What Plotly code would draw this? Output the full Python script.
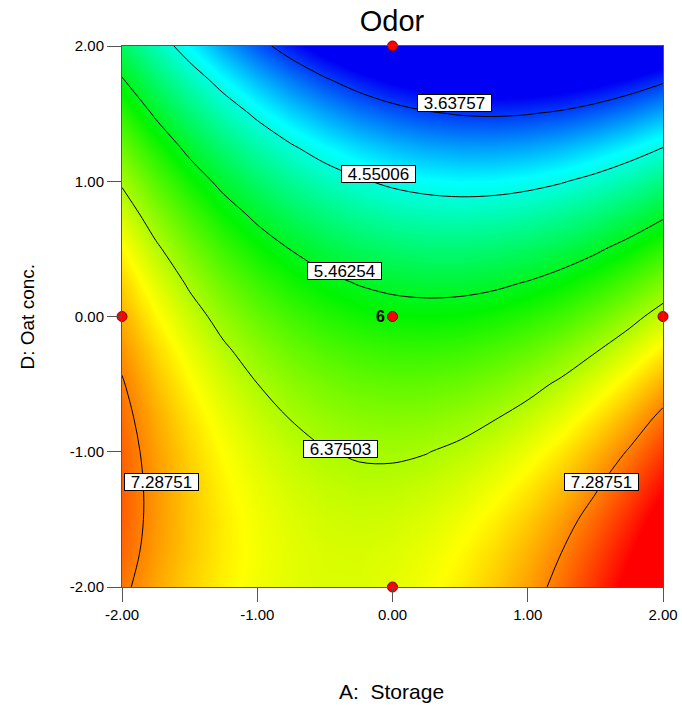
import plotly.graph_objects as go

# ---------------- data ----------------
storage_A = [-2.0, -1.75, -1.5, -1.25, -1.0, -0.75, -0.5, -0.25, 0.0,
             0.25, 0.5, 0.75, 1.0, 1.25, 1.5, 1.75, 2.0]          # A: Storage
oat_D = [-2.0, -1.75, -1.5, -1.25, -1.0, -0.75, -0.5, -0.25, 0.0,
         0.25, 0.5, 0.75, 1.0, 1.25, 1.5, 1.75, 2.0]              # D: Oat conc.

# Odor response, one row per oat_D value, one column per storage_A value
odor = [
    [7.347, 7.129, 6.948, 6.803, 6.696, 6.625, 6.591, 6.593, 6.633, 6.709, 6.823, 6.973, 7.160, 7.383, 7.644, 7.941, 8.275],
    [7.407, 7.177, 6.984, 6.828, 6.708, 6.626, 6.580, 6.571, 6.598, 6.663, 6.764, 6.903, 7.078, 7.290, 7.538, 7.824, 8.146],
    [7.441, 7.199, 6.994, 6.826, 6.695, 6.600, 6.542, 6.522, 6.538, 6.590, 6.680, 6.806, 6.970, 7.170, 7.406, 7.680, 7.991],
    [7.448, 7.194, 6.978, 6.798, 6.655, 6.548, 6.479, 6.446, 6.450, 6.491, 6.569, 6.684, 6.835, 7.023, 7.248, 7.510, 7.809],
    [7.429, 7.164, 6.935, 6.743, 6.589, 6.470, 6.389, 6.345, 6.337, 6.366, 6.432, 6.535, 6.675, 6.851, 7.064, 7.314, 7.601],
    [7.384, 7.107, 6.866, 6.663, 6.496, 6.366, 6.273, 6.217, 6.197, 6.215, 6.269, 6.360, 6.488, 6.652, 6.854, 7.092, 7.367],
    [7.313, 7.024, 6.771, 6.556, 6.378, 6.236, 6.131, 6.063, 6.032, 6.037, 6.079, 6.159, 6.275, 6.427, 6.617, 6.843, 7.107],
    [7.215, 6.914, 6.650, 6.423, 6.233, 6.079, 5.962, 5.883, 5.839, 5.833, 5.864, 5.931, 6.035, 6.176, 6.354, 6.569, 6.820],
    [7.091, 6.778, 6.503, 6.264, 6.062, 5.896, 5.768, 5.676, 5.621, 5.603, 5.622, 5.677, 5.770, 5.899, 6.065, 6.267, 6.507],
    [6.941, 6.617, 6.329, 6.078, 5.864, 5.687, 5.547, 5.443, 5.376, 5.347, 5.353, 5.397, 5.478, 5.595, 5.749, 5.940, 6.168],
    [6.765, 6.428, 6.129, 5.866, 5.641, 5.452, 5.299, 5.184, 5.106, 5.064, 5.059, 5.091, 5.160, 5.265, 5.407, 5.587, 5.803],
    [6.562, 6.214, 5.903, 5.628, 5.391, 5.190, 5.026, 4.899, 4.808, 4.755, 4.738, 4.758, 4.815, 4.909, 5.039, 5.207, 5.411],
    [6.333, 5.973, 5.650, 5.364, 5.115, 4.902, 4.726, 4.587, 4.485, 4.420, 4.391, 4.399, 4.445, 4.526, 4.645, 4.801, 4.993],
    [6.078, 5.706, 5.371, 5.073, 4.812, 4.588, 4.400, 4.249, 4.135, 4.058, 4.018, 4.014, 4.048, 4.118, 4.225, 4.368, 4.549],
    [5.797, 5.413, 5.066, 4.757, 4.484, 4.247, 4.048, 3.885, 3.760, 3.671, 3.618, 3.603, 3.625, 3.683, 3.778, 3.910, 4.079],
    [5.489, 5.094, 4.735, 4.414, 4.129, 3.881, 3.669, 3.495, 3.357, 3.257, 3.193, 3.166, 3.175, 3.222, 3.305, 3.425, 3.582],
    [5.155, 4.748, 4.378, 4.044, 3.748, 3.488, 3.265, 3.078, 2.929, 2.816, 2.741, 2.702, 2.700, 2.734, 2.806, 2.914, 3.059],
]

contour_levels = [3.63757, 4.55006, 5.46254, 6.37503, 7.28751]
contour_label_text = ["3.63757", "4.55006", "5.46254", "6.37503", "7.28751", "7.28751"]

design_A = [0.0, 0.0, -2.0, 2.0, 0.0]
design_D = [2.0, -2.0, 0.0, 0.0, 0.0]
center_runs = "6"

tick_vals = [-2, -1, 0, 1, 2]
tick_text = ["-2.00", "-1.00", "0.00", "1.00", "2.00"]

# ---------------- figure ----------------
FONT = "Liberation Sans, Arial, sans-serif"
FIG_W, FIG_H = 682, 709
PLOT_L, PLOT_T, PLOT_W, PLOT_H = 122, 46, 541, 541   # in page pixels

Z_MIN, Z_MAX = 3.40, 7.85
def stop(v):
    return (v - Z_MIN) / (Z_MAX - Z_MIN)

colorscale = [
    [0.0, "rgb(0,0,245)"],
    [stop(4.40), "rgb(0,255,255)"],
    [stop(5.60), "rgb(0,245,0)"],
    [stop(6.75), "rgb(255,255,0)"],
    [1.0, "rgb(255,0,0)"],
]

fig = go.Figure()

fig.add_trace(go.Heatmap(
    x=storage_A, y=oat_D, z=odor,
    zsmooth="best", zmin=Z_MIN, zmax=Z_MAX,
    colorscale=colorscale, showscale=False, hoverinfo="skip",
))

step = contour_levels[1] - contour_levels[0]
fig.add_trace(go.Contour(
    x=storage_A, y=oat_D, z=odor,
    autocontour=False,
    contours=dict(start=contour_levels[0], end=contour_levels[-1] + step / 2,
                  size=step, coloring="none", showlabels=False),
    line=dict(color="black", width=1, smoothing=1.0),
    showscale=False, hoverinfo="skip",
))

fig.add_trace(go.Scatter(
    x=design_A, y=design_D, mode="markers",
    marker=dict(color="rgb(255,0,0)", size=10,
                line=dict(color="rgb(120,0,0)", width=1)),
    cliponaxis=False, hoverinfo="skip", showlegend=False,
))

# contour value labels (white boxes)
label_pos = [(0.456, 1.578), (-0.107, 1.05), (-0.353, 0.34),
             (-0.384, -0.977), (-1.71, -1.226), (1.544, -1.224)]
for txt, (ax_, dy_) in zip(contour_label_text, label_pos):
    fig.add_annotation(
        x=ax_, y=dy_, xref="x", yref="y", text=txt, showarrow=False,
        font=dict(family=FONT, size=17, color="black"),
        bgcolor="white", bordercolor="black", borderwidth=1, borderpad=0,
        width=73, height=16, xanchor="center", yanchor="middle",
    )

fig.add_annotation(
    x=0, y=0, xref="x", yref="y", text="<b>" + center_runs + "</b>",
    showarrow=False, xanchor="right", yanchor="middle", xshift=-6,
    font=dict(family=FONT, size=16, color="black"),
)

# axis titles
fig.add_annotation(
    x=(27 - PLOT_L) / PLOT_W, y=0.5, xref="paper", yref="paper",
    text="D: Oat conc.", textangle=-90, showarrow=False,
    xanchor="center", yanchor="middle",
    font=dict(family=FONT, size=19, color="black"),
)
fig.add_annotation(
    x=(391 - PLOT_L) / PLOT_W, y=(PLOT_T + PLOT_H - 691) / PLOT_H,
    xref="paper", yref="paper",
    text="A:  Storage", showarrow=False, xanchor="center", yanchor="middle",
    font=dict(family=FONT, size=21, color="black"),
)

axis_common = dict(
    tickvals=tick_vals, ticktext=tick_text, ticks="outside", ticklen=14,
    tickcolor="#555", tickwidth=1, showline=True, linecolor="#555",
    linewidth=1, mirror=True, showgrid=False, zeroline=False,
    tickfont=dict(family=FONT, size=15, color="black"),
    range=[-2, 2], automargin=False,
)

fig.update_layout(
    width=FIG_W, height=FIG_H,
    margin=dict(l=PLOT_L, r=FIG_W - PLOT_L - PLOT_W,
                t=PLOT_T, b=FIG_H - PLOT_T - PLOT_H),
    paper_bgcolor="white", plot_bgcolor="white",
    showlegend=False,
    title=dict(text="Odor", x=392 / FIG_W, xanchor="center",
               y=1 - 21 / FIG_H, yanchor="middle",
               font=dict(family=FONT, size=29, color="black")),
    xaxis=axis_common,
    yaxis=axis_common,
)

fig.write_html(
    "out.html",
    config={"displayModeBar": False},
    post_script="document.body.style.margin='0';document.body.style.overflow='hidden';",
)
